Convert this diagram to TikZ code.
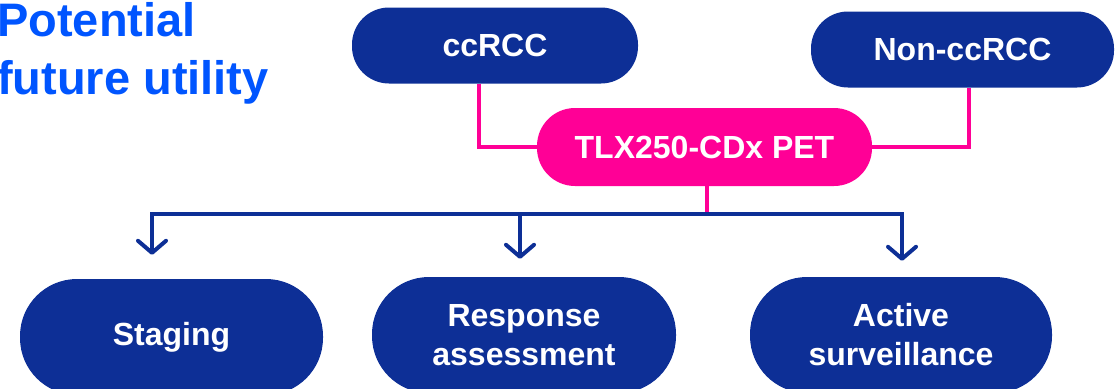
\documentclass[tikz,border=0pt]{standalone}
\usepackage{fontspec}
\setmainfont{Liberation Sans}
\usetikzlibrary{arrows.meta}
\definecolor{navy}{RGB}{13,47,150}
\definecolor{hotpink}{RGB}{255,0,150}
\definecolor{titleblue}{RGB}{0,85,255}
\begin{document}
\begin{tikzpicture}[x=1pt,y=-1pt,
  pill/.style={rectangle, fill=navy, text=white, font=\bfseries\fontsize{32}{39}\selectfont, align=center, inner sep=0pt},
  toppill/.style={pill, minimum height=76pt, rounded corners=37pt},
  botpill/.style={pill, minimum height=116pt, rounded corners=57pt},
  pinkline/.style={draw=hotpink, line width=4pt},
  navyline/.style={draw=navy, line width=4pt},
  arr/.style={navyline, -{Straight Barb[length=12pt,width=28pt,round]}},
  titletext/.style={anchor=base west, inner sep=0pt, text=titleblue, font=\bfseries\fontsize{47}{56}\selectfont}]
\useasboundingbox (0,0) rectangle (1115,388);
% title
\node[titletext] (ttl1) at (-3,36) {Potential};
\node[titletext] (ttl2) at (-3,94) {future utility};
% nodes
\node[toppill, minimum width=286pt] (cc) at (495,45.5) {ccRCC};
\node[toppill, minimum width=303pt] (ncc) at (962.5,49.5) {Non-ccRCC};
\node[toppill, fill=hotpink, minimum width=335pt, minimum height=78pt, rounded corners=38pt] (tlx) at (704.5,147) {TLX250-CDx PET};
\node[botpill, minimum width=303pt] (stg) at (171.5,337) {Staging};
\node[botpill, minimum width=304pt] (resp) at (524,335) {Response\\assessment};
\node[botpill, minimum width=302pt] (act) at (901,335) {Active\\surveillance};
% pink connectors
\draw[pinkline] ([xshift=-16pt]cc.south) |- (tlx.west);
\draw[pinkline] (tlx.east) -| ([xshift=6.5pt]ncc.south);
\draw[pinkline] ([xshift=2.5pt]tlx.south) -- ++(0,28) coordinate (j);
% blue connectors
\coordinate (t1) at ([xshift=-19.5pt,yshift=24pt]stg.north);
\coordinate (t2) at ([xshift=-4pt,yshift=18pt]resp.north);
\coordinate (t3) at ([xshift=1pt,yshift=16pt]act.north);
\draw[arr] (j) -| (t1);
\draw[arr] (j) -| (t3);
\draw[arr] (t2 |- j) -- (t2);
\end{tikzpicture}
\end{document}
